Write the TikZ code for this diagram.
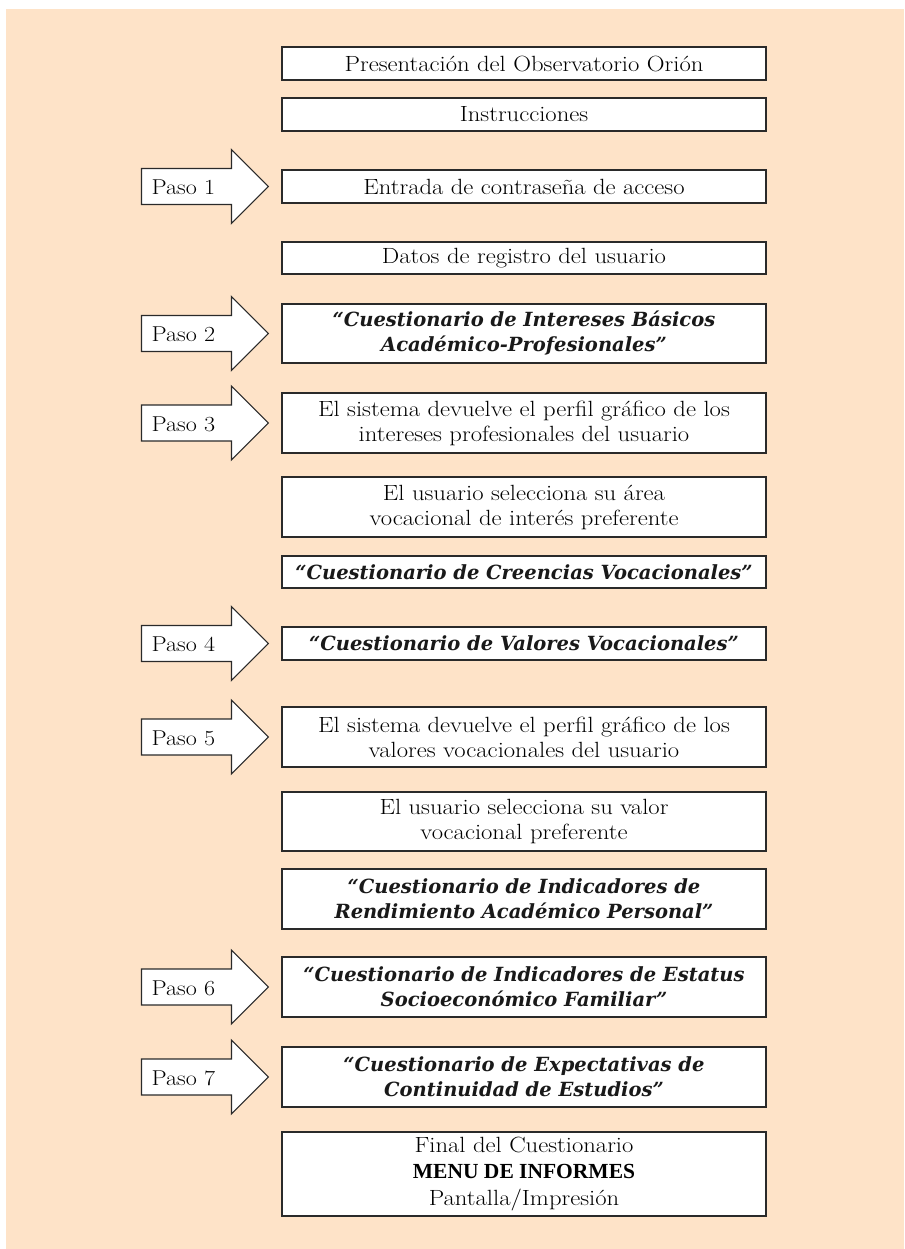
\documentclass[tikz,border=0pt]{standalone}
\usepackage{fontspec}
\setmainfont{Latin Modern Roman}[FakeStretch=1.12]
\newfontfamily\qfont{DejaVu Serif}
\newfontfamily\menufont{Liberation Serif}
\usetikzlibrary{calc}
\definecolor{peach}{HTML}{FEE3C8}
\definecolor{edge}{HTML}{2A2A2A}
\begin{document}
\begin{tikzpicture}[x=1pt,y=-1pt,
  boxst/.style={draw=edge, line width=1.1pt, fill=white, minimum width=484pt, inner sep=0pt, align=center, text=black, font=\fontsize{22}{25}\selectfont},
  qbox/.style={boxst, text=black!90, font=\qfont\fontsize{19.5}{25}\selectfont\bfseries\itshape},
  arrowst/.style={draw=edge, line width=1.1pt, fill=white, line join=miter},
  pasost/.style={anchor=west, inner sep=0pt, text=black, font=\fontsize{21.5}{25}\selectfont}
]
\useasboundingbox (0,0) rectangle (904,1249);
\fill[peach] (6,9) rectangle (904,1249);

\node[boxst, minimum height=33pt] (b1) at (524,63.5) {Presentación del Observatorio Orión};
\node[boxst, minimum height=33pt] (b2) at (524,114.5) {Instrucciones};
\node[boxst, minimum height=33pt] (b3) at (524,186.5) {Entrada de contraseña de acceso};
\node[boxst, minimum height=32pt] (b4) at (524,258) {Datos de registro del usuario};
\node[qbox, minimum height=59pt] (b5) at (524,333.5) {“Cuestionario de Intereses Básicos\\Académico-Profesionales”};
\node[boxst, minimum height=60pt] (b6) at (524,423) {El sistema devuelve el perfil gráfico de los\\intereses profesionales del usuario};
\node[boxst, minimum height=60pt] (b7) at (524,507) {El usuario selecciona su área\\vocacional de interés preferente};
\node[qbox, minimum height=32pt] (b8) at (524,572) {“Cuestionario de Creencias Vocacionales”};
\node[qbox, minimum height=33pt] (b9) at (524,643.5) {“Cuestionario de Valores Vocacionales”};
\node[boxst, minimum height=60pt] (b10) at (524,737) {El sistema devuelve el perfil gráfico de los\\valores vocacionales del usuario};
\node[boxst, minimum height=59pt] (b11) at (524,821.5) {El usuario selecciona su valor\\vocacional preferente};
\node[qbox, minimum height=60pt] (b12) at (524,899) {“Cuestionario de Indicadores de\\Rendimiento Académico Personal”};
\node[qbox, minimum height=60pt] (b13) at (524,987) {“Cuestionario de Indicadores de Estatus\\Socioeconómico Familiar”};
\node[qbox, minimum height=60pt] (b14) at (524,1077) {“Cuestionario de Expectativas de\\Continuidad de Estudios”};
\node[boxst, minimum height=84pt, font=\fontsize{22}{26.5}\selectfont] (b15) at (524,1174) {Final del Cuestionario\\{\menufont\fontsize{21.5}{26.5}\selectfont\bfseries MENU DE INFORMES}\\Pantalla/Impresión};

\foreach \b/\n in {b3/1, b5/2, b6/3, b9/4, b10/5, b13/6, b14/7}{
  \draw[arrowst] ($(\b.west)+(-13,0)$) -- ++(-37,-37) -- ++(0,19) -- ++(-90,0) -- ++(0,36) -- ++(90,0) -- ++(0,19) -- cycle;
  \node[pasost] (p\n) at ($(\b.west)+(-130,1)$) {Paso \n};
}
\end{tikzpicture}
\end{document}
